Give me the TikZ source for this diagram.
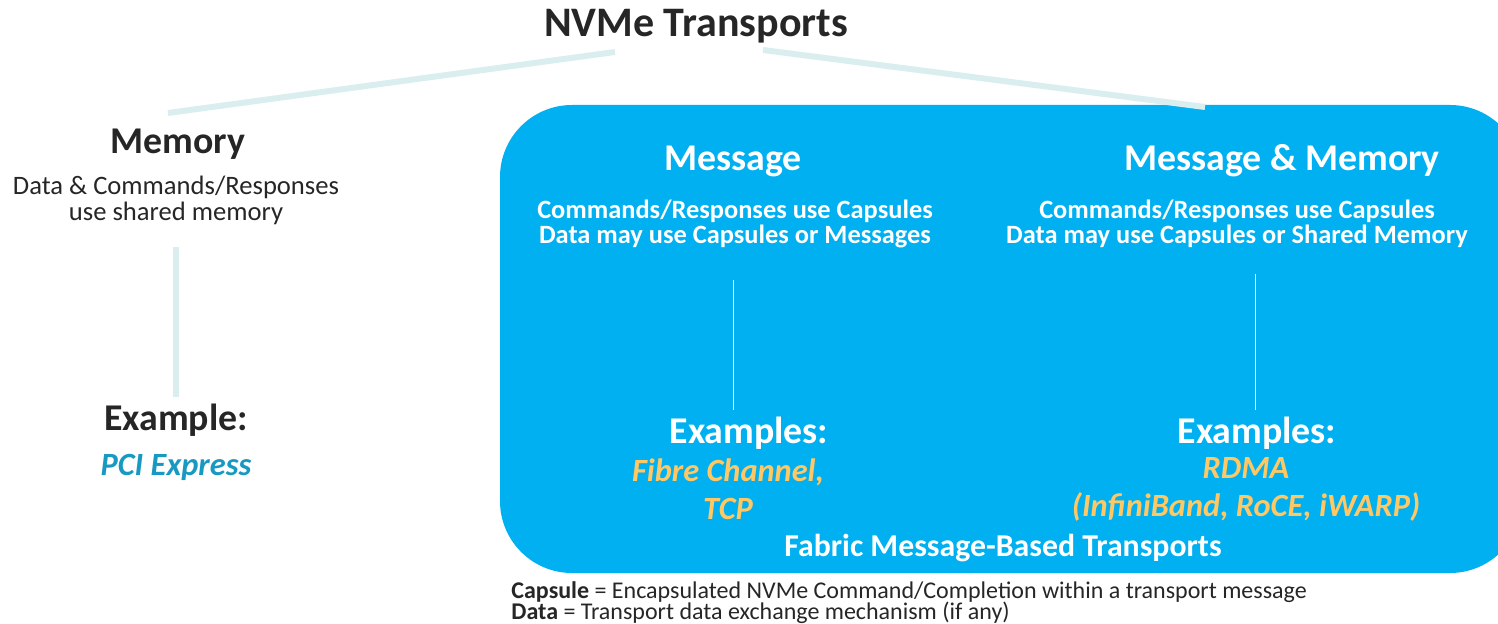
\documentclass[tikz,border=0pt]{standalone}
\usepackage{fontspec}
\setmainfont{Carlito}
\definecolor{fabricblue}{HTML}{00B0F0}
\definecolor{linkpale}{HTML}{DAEEF0}
\definecolor{exorange}{HTML}{FFC864}
\definecolor{pciblue}{HTML}{1899C2}
\definecolor{inkdark}{HTML}{262626}
\tikzset{
  every node/.style={inner sep=0pt, align=center},
  bighead/.style={font=\bfseries\fontsize{21}{25}\selectfont, text=inkdark},
  head/.style={font=\bfseries\fontsize{18.9}{22}\selectfont},
  desc/.style={font=\fontsize{13.3}{13}\selectfont, text=inkdark},
  wdesc/.style={font=\bfseries\fontsize{13.2}{12.5}\selectfont, text=white},
  exlist/.style={font=\bfseries\itshape\fontsize{16.2}{19}\selectfont},
  note/.style={font=\fontsize{12}{10.5}\selectfont, text=inkdark},
  link/.style={linkpale, line width=3pt},
  thinlink/.style={white, line width=0.5pt}
}
\begin{document}
\begin{tikzpicture}[x=0.5pt,y=-0.5pt]
    \useasboundingbox (0,0) rectangle (1498,624);
    \clip (0,0) rectangle (1498,624);
    \fill[fabricblue, rounded corners=36pt] (500,105) rectangle (1522,573);

    \node[bighead] (title) at (696,26) {NVMe Transports};

    \node[head, text=inkdark] (memory) at (178,144) {Memory};
    \node[desc] (memdesc) at (176,200) {Data \& Commands/Responses\\use shared memory};
    \node[head, text=inkdark] (memex) at (176,420) {Example:};
    \node[exlist, text=pciblue] (pcie) at (176,467) {PCI Express};

    \node[head, text=white] (msg) at (733,161) {Message};
    \node[wdesc] (msgdesc) at (735,224) {Commands/Responses use Capsules\\Data may use Capsules or Messages};
    \node[head, text=white] (msgex) at (749,433) {Examples:};
    \node[exlist, text=exorange] (msglist) at (728,489) {Fibre Channel,\\TCP};

    \node[head, text=white] (mm) at (1282,161) {Message \& Memory};
    \node[wdesc] (mmdesc) at (1237,224) {Commands/Responses use Capsules\\Data may use Capsules or Shared Memory};
    \node[head, text=white] (mmex) at (1257,433) {Examples:};
    \node[exlist, text=exorange] (mmlist) at (1246,489) {RDMA\\(InfiniBand, RoCE, iWARP)};

    \node[font=\bfseries\fontsize{15.9}{18}\selectfont, text=white] (fabric) at (1003,548) {Fabric Message-Based Transports};

    \node[note, anchor=base west] (capdef) at (511,598) {\textbf{Capsule} = Encapsulated NVMe Command/Completion within a transport message};
    \node[note, anchor=base west] (datdef) at (511,619) {\textbf{Data} = Transport data exchange mechanism (if any)};

    \coordinate (tleft) at (615,52);
    \coordinate (tright) at (763,50);
    \coordinate (memtop) at (168,113);
    \coordinate (fabtop) at (1205,107);
    \draw[link] (tleft) -- (memtop);
    \draw[link] (tright) -- (fabtop);
    \draw[link, shorten <=11pt, shorten >=3pt] (memdesc.south) -- (memdesc.south |- memex.north);
    \draw[thinlink, shorten <=16pt, shorten >=3pt] (msgdesc.south -| 733,0) -- (msgex.north -| 733,0);
    \draw[thinlink, shorten <=13pt, shorten >=3pt] (mmdesc.south -| 1255,0) -- (mmex.north -| 1255,0);
\end{tikzpicture}
\end{document}
